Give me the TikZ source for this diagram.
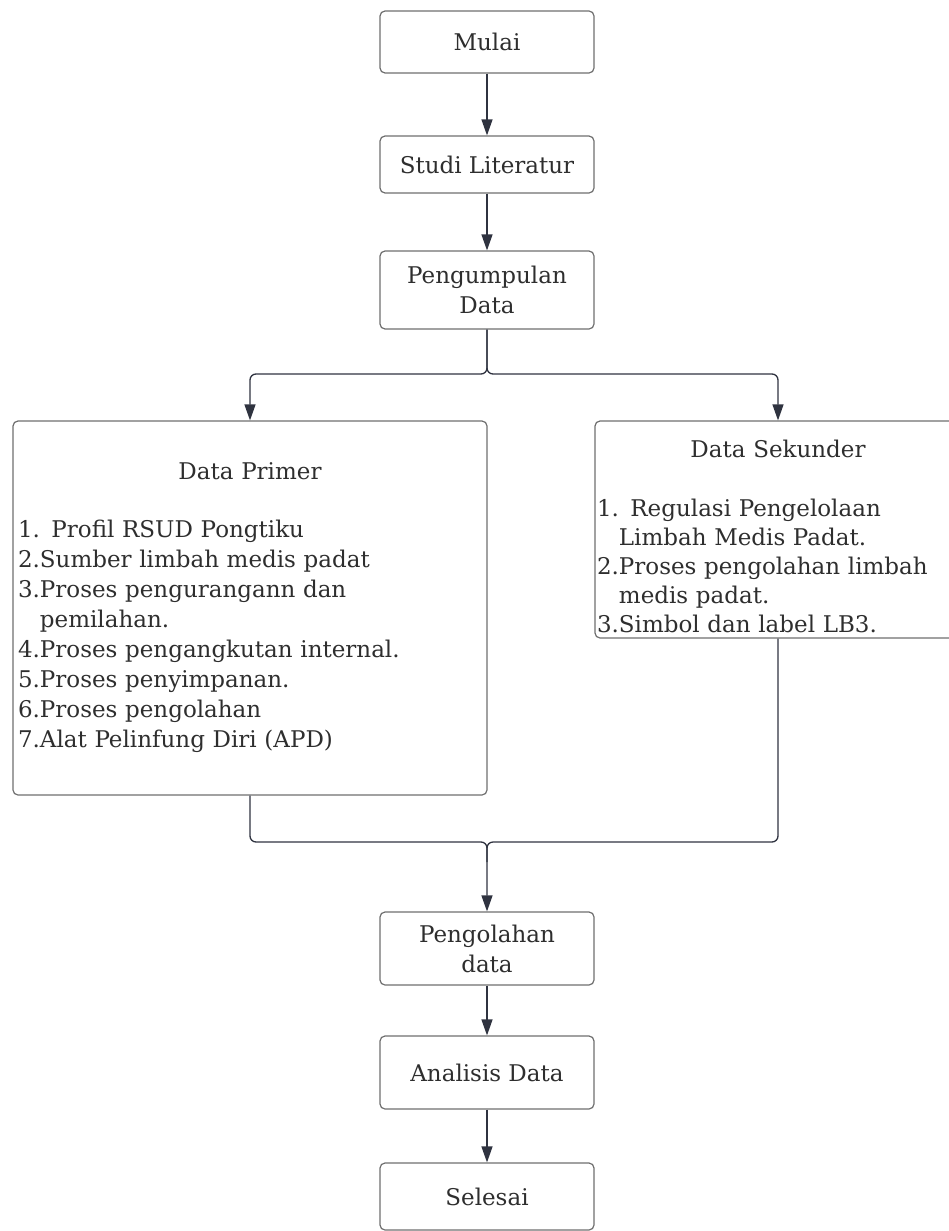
\documentclass[tikz,border=0pt]{standalone}
\usepackage{fontspec}
\setmainfont{DejaVu Serif}
\usepackage{tikz}
\usetikzlibrary{arrows.meta,positioning}

\definecolor{garisbox}{HTML}{6E6E6E}
\definecolor{garispanah}{HTML}{2F3340}
\definecolor{teks}{HTML}{2E2E2E}

\begin{document}
\begin{tikzpicture}[x=1pt,y=-1pt]

\tikzset{kotak/.style={draw=garisbox, line width=1.2pt, rounded corners=5pt,
                       text=teks, font=\fontsize{23}{30}\selectfont,
                       minimum width=214pt, align=center, inner sep=2pt},
         panah/.style={draw=garispanah, line width=1.3pt,
                       -{Triangle[length=16pt,width=11pt]}},
         garis/.style={draw=garispanah, line width=1.3pt}}

\useasboundingbox (0,0) rectangle (949,1231);

\node[kotak, minimum height=62pt] (mulai) at (487,42) {Mulai};
\node[kotak, minimum height=57pt] (studi) at (487,164.5) {Studi Literatur};
\node[kotak, minimum height=78pt] (kumpul) at (487,290) {Pengumpulan\\Data};

\node[kotak, minimum width=474pt, minimum height=374pt, text width=464pt,
      inner xsep=5pt, align=left] (primer) at (250,608)
  {\makebox[\hsize]{Data Primer}\\[28pt]
   1. Profil RSUD Pongtiku\\
   2.Sumber limbah medis padat\\
   3.Proses pengurangann dan\\
   \phantom{3.}pemilahan.\\
   4.Proses pengangkutan internal.\\
   5.Proses penyimpanan.\\
   6.Proses pengolahan\\
   7.Alat Pelinfung Diri (APD)};

\node[kotak, minimum width=366pt, minimum height=217pt, text width=362pt,
      inner xsep=2pt, align=left, font=\fontsize{23}{29}\selectfont] (sekunder) at (778,529.5)
  {\rule{0pt}{32pt}\makebox[\hsize]{Data Sekunder}\\[30pt]
   1. Regulasi Pengelolaan\\
   \phantom{2.}Limbah Medis Padat.\\
   2.Proses pengolahan limbah\\
   \phantom{2.}medis padat.\\
   3.Simbol dan label LB3.};

\node[kotak, minimum height=73pt] (olah) at (487,948.5) {Pengolahan\\data};
\node[kotak, minimum height=73pt] (analisis) at (487,1072.5) {Analisis Data};
\node[kotak, minimum height=67pt] (selesai) at (487,1196.5) {Selesai};

\coordinate (pisah) at (487,374);
\coordinate (gabung) at (487,842);

\draw[panah] (mulai) -- (studi);
\draw[panah] (studi) -- (kumpul);
\draw[panah, rounded corners=6pt] (kumpul.south) -- (pisah) -| (primer.north);
\draw[panah, rounded corners=6pt] (kumpul.south) -- (pisah) -| (sekunder.north);
\draw[garis, rounded corners=6pt] (sekunder.south) |- (gabung) -- ++(0,20);
\draw[panah, rounded corners=6pt] (primer.south) |- (gabung) -- (olah.north);
\draw[panah] (olah) -- (analisis);
\draw[panah] (analisis) -- (selesai);

\end{tikzpicture}
\end{document}
